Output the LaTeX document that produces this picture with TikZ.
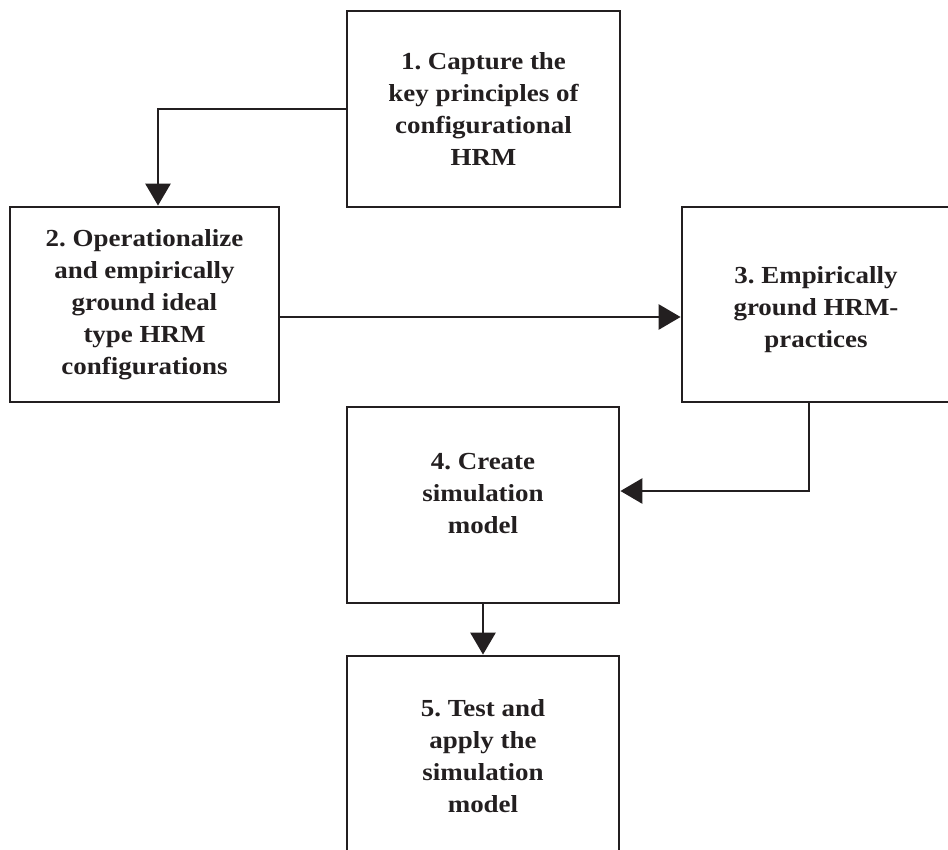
\documentclass[tikz,border=0pt]{standalone}
\usepackage{fontspec}
\newfontfamily\boxfont{Liberation Serif}[FakeStretch=1.1]
\usetikzlibrary{arrows.meta}
\definecolor{ink}{HTML}{231F20}
\begin{document}
\frenchspacing
\begin{tikzpicture}[x=1pt,y=-1pt,
  stepbox/.style={draw=ink,line width=2.8pt,rectangle,inner sep=0pt},
  lbl/.style={align=center,text=ink,font=\frenchspacing\boxfont\bfseries\fontsize{24.5}{32}\selectfont,inner sep=0pt},
  arr/.style={draw=ink,line width=2.8pt,-{Triangle[length=22pt,width=25pt]}}]
\useasboundingbox (0,0) rectangle (948,849);
\clip (0,0) rectangle (948,849);
\node[stepbox,minimum width=273pt,minimum height=196pt] (b1) at (483.5,109) {};
\node[stepbox,minimum width=269pt,minimum height=195pt] (b2) at (144.5,304.5) {};
\node[stepbox,minimum width=268pt,minimum height=195pt] (b3) at (816,304.5) {};
\node[stepbox,minimum width=272pt,minimum height=196pt] (b4) at (483,505) {};
\node[stepbox,minimum width=272pt,minimum height=200pt] (b5) at (483,756) {};
\node[lbl] (t1) at (483.5,109) {1. Capture the\\key principles of\\configurational\\HRM};
\node[lbl] (t2) at (144.5,305) {2. Operationalize\\and empirically\\ground ideal\\type HRM\\configurations};
\node[lbl] (t3) at (816,310) {3. Empirically\\ground HRM-\\practices};
\node[lbl] (t4) at (483,494) {4. Create\\simulation\\model};
\node[lbl] (t5) at (483,756) {5. Test and\\apply the\\simulation\\model};
\coordinate (c12) at (158,109);
\draw[arr] (b1.west) -| (c12 |- b2.north);
\draw[arr] ([yshift=-12.5pt]b2.east) -- ([yshift=-12.5pt]b3.west);
\draw[arr] ([xshift=-7pt]b3.south) |- ([yshift=14pt]b4.east);
\draw[arr] (b4.south) -- (b5.north);
\end{tikzpicture}
\end{document}
